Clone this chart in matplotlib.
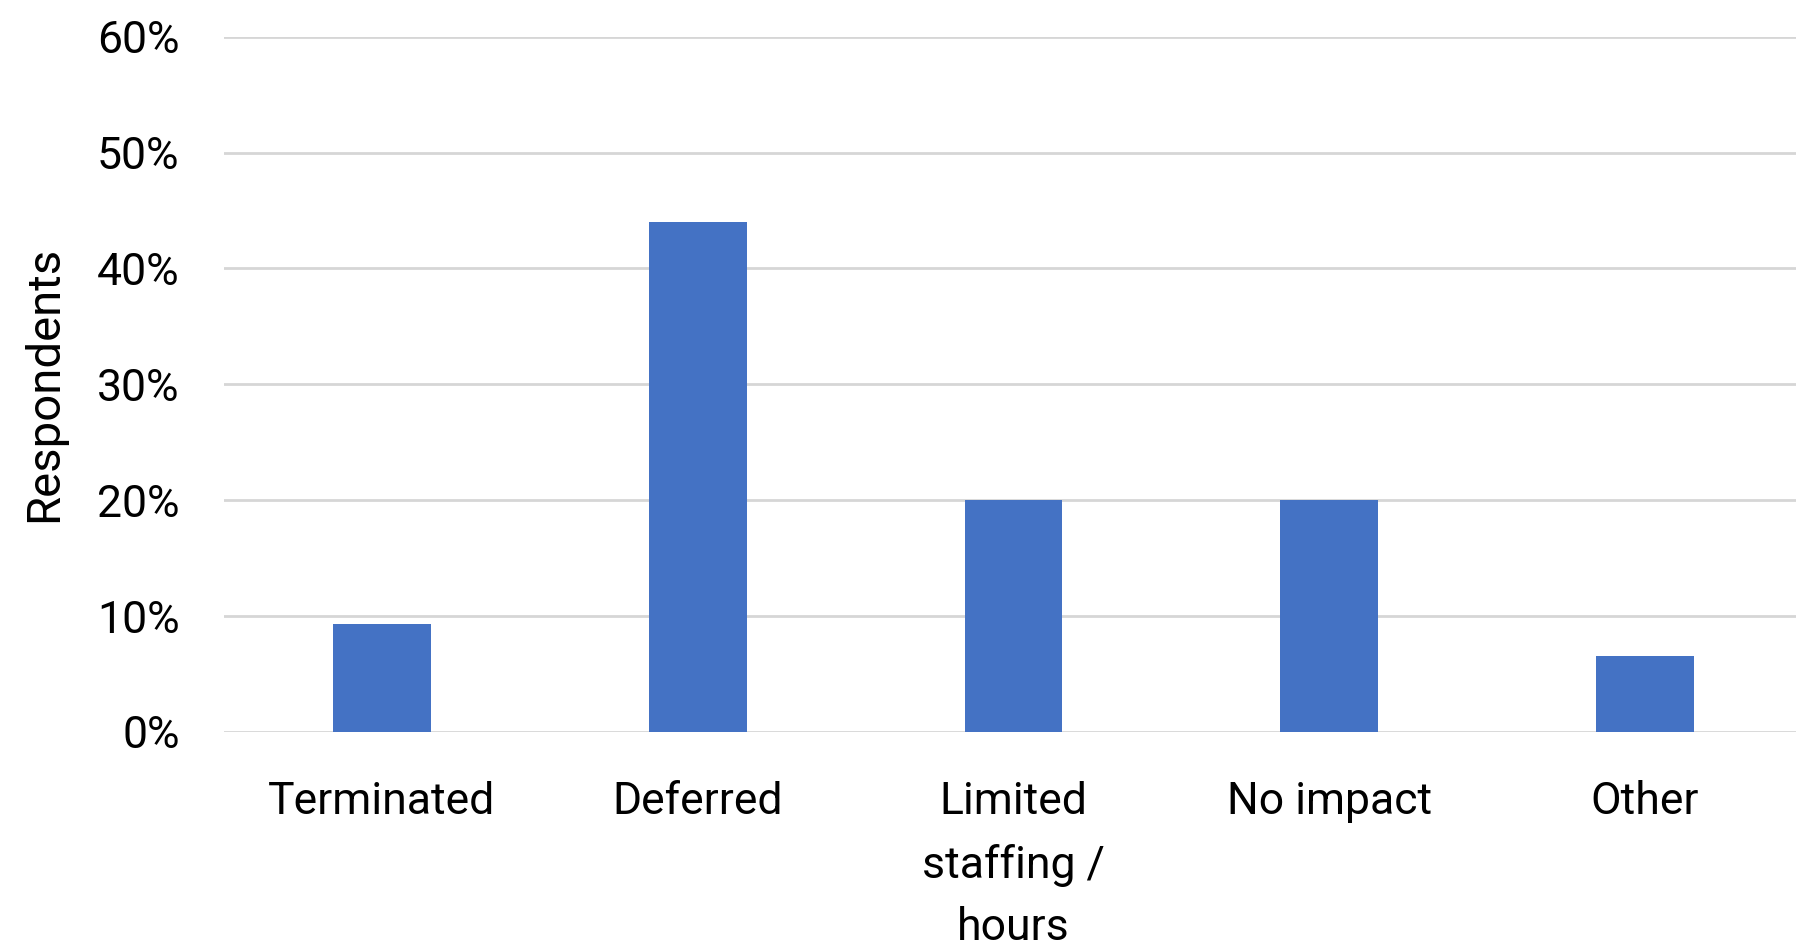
import numpy as np
import matplotlib
matplotlib.use('Agg')
import matplotlib.pyplot as plt
from matplotlib.ticker import PercentFormatter

categories = ['Terminated', 'Deferred', 'Limited\nstaffing /\nhours', 'No impact', 'Other']
shares = [0.093, 0.44, 0.20, 0.20, 0.066]
yticks = [0, 0.1, 0.2, 0.3, 0.4, 0.5, 0.6]

plt.rcParams['font.family'] = ['Roboto', 'DejaVu Sans']

fig = plt.figure(figsize=(17.96, 9.51), dpi=100)
ax = fig.add_axes([224 / 1796, 1 - 732 / 951, 1579 / 1796, (732 - 36.6) / 951])

x = np.arange(len(categories))
ax.bar(x, shares, width=0.31, color='#4472C4', zorder=2)

ax.set_xlim(-0.5, len(categories) - 0.5)
ax.set_ylim(0, 0.6)
ax.set_yticks(yticks)
ax.yaxis.set_major_formatter(PercentFormatter(1.0, decimals=0))
ax.set_xticks(x)
ax.set_xticklabels(categories, linespacing=1.62)
ax.grid(axis='y', color='#d6d6d6', linewidth=2, zorder=0)
for s in ax.spines.values():
    s.set_visible(False)
ax.tick_params(axis='both', length=0, labelsize=32)
ax.tick_params(axis='y', pad=32)
ax.tick_params(axis='x', pad=35)
ax.set_ylabel('Respondents', fontsize=34, labelpad=22)

fig.savefig('out.png', dpi=100)
